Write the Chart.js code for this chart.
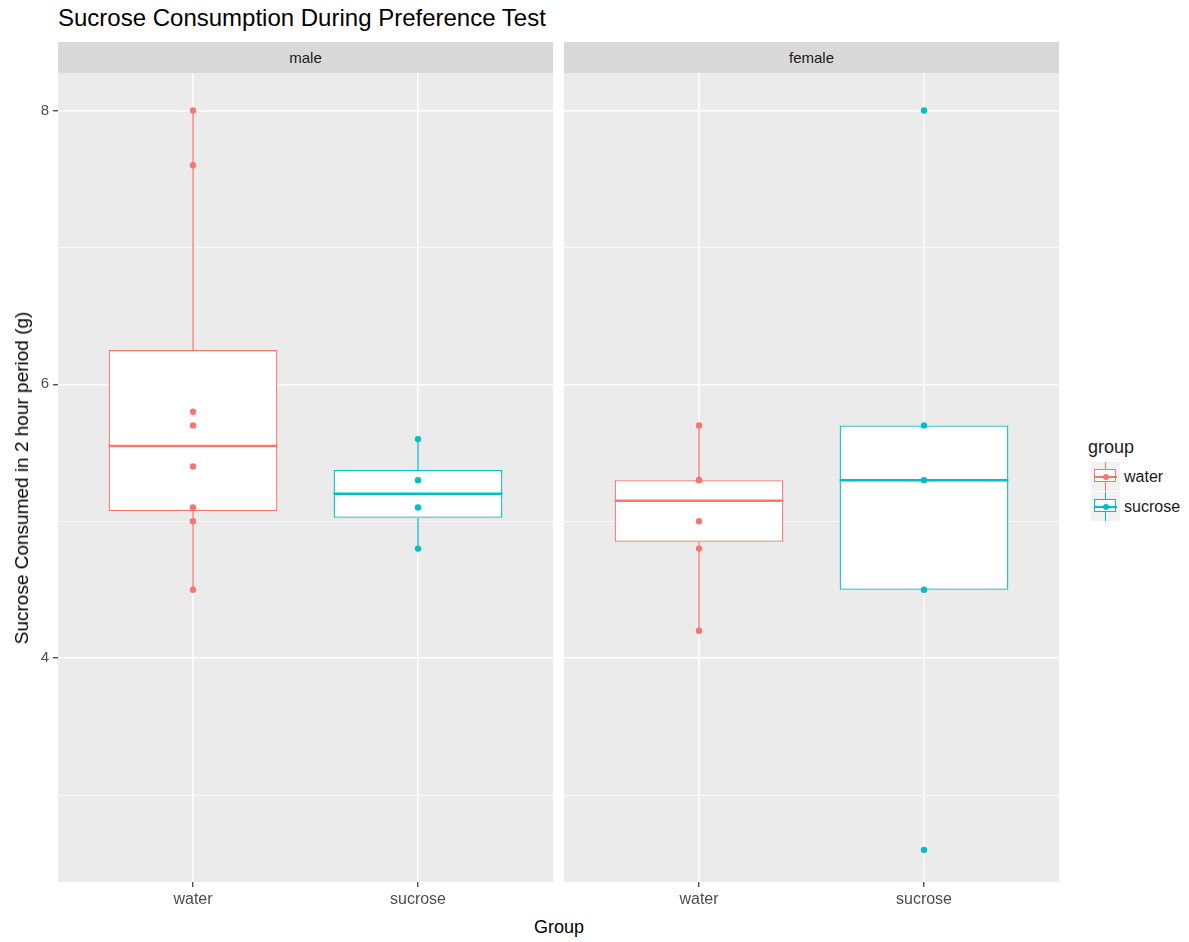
<!DOCTYPE html>
<html>
<head>
<meta charset="utf-8">
<script src="https://cdn.jsdelivr.net/npm/chart.js@4.4.1/dist/chart.umd.min.js"></script>
<style>
body{margin:0;background:#fff;font-family:"Liberation Sans",Arial,sans-serif;}
#page{position:relative;width:1189px;height:942px;overflow:hidden;}
canvas{position:absolute;top:73px;}
.strip{position:absolute;top:42px;height:31px;background:#D9D9D9;color:#1A1A1A;font-size:15px;line-height:31px;text-align:center;}
.txt{position:absolute;color:#000;white-space:nowrap;}
.key{position:absolute;left:1091px;width:29px;height:29px;background:#F2F2F2;}
.key div{position:absolute;}
.klab{position:absolute;left:1124px;font-size:16px;color:#1A1A1A;line-height:29px;}
</style>
</head>
<body>
<div id="page">
<div class="txt" style="left:58px;top:4px;font-size:24px;">Sucrose Consumption During Preference Test</div>

<div class="strip" style="left:58px;width:495px;">male</div>
<div class="strip" style="left:564px;width:495px;">female</div>

<canvas id="maleChart" width="553" height="842" style="left:0px;"></canvas>
<canvas id="femaleChart" width="495" height="842" style="left:564px;"></canvas>

<div class="txt" style="left:559px;top:917px;font-size:18px;transform:translateX(-50%);">Group</div>
<div class="txt" style="left:22px;top:478px;font-size:19px;transform:translate(-50%,-50%) rotate(-90deg);">Sucrose Consumed in 2 hour period (g)</div>

<div class="txt" style="left:1088px;top:437px;font-size:18px;color:#1A1A1A;">group</div>
<div id="legend"></div>
</div>

<script>
/* values */
let sexes = ["male", "female"];
let groups = ["water", "sucrose"];
let colors = ["#F8766D", "#00BFC4"];

/* raw points */
let maleWater = [8.0, 7.6, 5.8, 5.7, 5.4, 5.1, 5.0, 4.5];
let maleSucrose = [5.6, 5.3, 5.1, 4.8];
let femaleWater = [5.7, 5.3, 5.3, 5.0, 4.8, 4.2];
let femaleSucrose = [8.0, 5.7, 5.3, 4.5, 2.6];

/* box stats, [water, sucrose] */
let maleQ1 = [5.075, 5.025];
let maleMed = [5.55, 5.2];
let maleQ3 = [6.25, 5.375];
let maleLo = [4.5, 4.8];
let maleHi = [8.0, 5.6];

let femaleQ1 = [4.85, 4.5];
let femaleMed = [5.15, 5.3];
let femaleQ3 = [5.3, 5.7];
let femaleLo = [4.2, 4.5];
let femaleHi = [5.7, 5.7];

let yTicks = [3, 4, 5, 6, 7, 8];
let yLabels = [4, 6, 8];

let HALF = 0.375; // half box width in x units

/* grey panel behind the grid */
let panelBg = {
  id: "panelBg",
  beforeDraw(chart){
    let a = chart.chartArea;
    let ctx = chart.ctx;
    ctx.save();
    ctx.fillStyle = "#EBEBEB";
    ctx.fillRect(a.left, a.top, a.right - a.left, a.bottom - a.top);
    ctx.restore();
  }
};

function noPad(s){
  s.paddingLeft = 0; s.paddingRight = 0; s.paddingTop = 0; s.paddingBottom = 0;
}

function buildPanel(id, pts, q1, med, q3, lo, hi, showY){

let ds = [];

/* points */
pts.forEach((arr, g) => {
  ds.push({
    type: "scatter",
    data: arr.map(v => ({x: g + 1, y: v})),
    pointRadius: 3.2,
    pointHoverRadius: 3.2,
    backgroundColor: colors[g],
    pointBackgroundColor: colors[g],
    borderWidth: 0,
    order: 0
  });
});

/* medians + whiskers */
groups.forEach((name, g) => {
  let x = g + 1;
  ds.push({
    type: "line",
    data: [{x: x - HALF, y: med[g]}, {x: x + HALF, y: med[g]}],
    borderColor: colors[g], borderWidth: 2.5, pointRadius: 0, fill: false,
    order: 1
  });
  ds.push({
    type: "line",
    data: [{x: x, y: q3[g]}, {x: x, y: hi[g]}],
    borderColor: colors[g], borderWidth: 1.3, pointRadius: 0, fill: false,
    order: 3
  });
  ds.push({
    type: "line",
    data: [{x: x, y: lo[g]}, {x: x, y: q1[g]}],
    borderColor: colors[g], borderWidth: 1.3, pointRadius: 0, fill: false,
    order: 3
  });
});

/* boxes */
ds.push({
  type: "bar",
  data: groups.map((name, g) => ({x: g + 1, y: [q1[g], q3[g]]})),
  backgroundColor: "#FFFFFF",
  borderColor: colors,
  borderWidth: 1.3,
  borderSkipped: false,
  categoryPercentage: 1,
  barPercentage: 0.75,
  grouped: false,
  order: 2
});

new Chart(document.getElementById(id), {
  type: "bar",
  data: { datasets: ds },
  plugins: [panelBg],
  options: {
    responsive: false,
    animation: false,
    events: [],
    layout: { padding: 0, autoPadding: false },
    plugins: { legend: { display: false }, tooltip: { enabled: false } },
    scales: {
      x: {
        type: "linear",
        min: 0.4, max: 2.6,
        offset: false,
        afterBuildTicks: s => { s.ticks = groups.map((n, i) => ({value: i + 1})); },
        afterFit: s => { s.height = 33; noPad(s); },
        ticks: {
          callback: v => groups[v - 1],
          color: "#4D4D4D",
          font: { family: "'Liberation Sans', Arial", size: 16 },
          padding: 3,
          maxRotation: 0
        },
        grid: { offset: false, color: "#FFFFFF", lineWidth: 1.5, tickLength: 5, tickColor: "#333333", tickWidth: 1.2 },
        border: { display: false }
      },
      y: {
        type: "linear",
        min: 2.365, max: 8.274,
        beginAtZero: false,
        afterBuildTicks: s => { s.ticks = yTicks.map(v => ({value: v})); },
        afterFit: s => { s.width = showY ? 58 : 0; noPad(s); },
        ticks: {
          display: showY,
          callback: v => yLabels.includes(v) ? String(v) : "",
          color: "#4D4D4D",
          font: { family: "'Liberation Sans', Arial", size: 15 },
          padding: 4
        },
        grid: {
          color: "#FFFFFF",
          lineWidth: c => (c.tick && yLabels.includes(c.tick.value)) ? 1.5 : 0.75,
          drawTicks: showY,
          tickLength: 5,
          tickColor: c => (c.tick && yLabels.includes(c.tick.value)) ? "#333333" : "rgba(0,0,0,0)",
          tickWidth: 1.2
        },
        border: { display: false }
      }
    }
  }
});

}

buildPanel("maleChart", [maleWater, maleSucrose], maleQ1, maleMed, maleQ3, maleLo, maleHi, true);
buildPanel("femaleChart", [femaleWater, femaleSucrose], femaleQ1, femaleMed, femaleQ3, femaleLo, femaleHi, false);

/* legend keys */
let lg = document.getElementById("legend");
groups.forEach((name, g) => {
  let top = 462 + g * 30;
  let c = colors[g];
  lg.innerHTML += `
<div class="key" style="top:${top}px">
<div style="left:14px;top:0;width:1.3px;height:29px;background:${c}"></div>
<div style="left:3px;top:7px;width:20.4px;height:11.4px;background:#fff;border:1.3px solid ${c}"></div>
<div style="left:3px;top:13.5px;width:23px;height:2px;background:${c}"></div>
<div style="left:11.5px;top:11.5px;width:6px;height:6px;border-radius:50%;background:${c}"></div>
</div>
<div class="klab" style="top:${top}px">${name}</div>`;
});
</script>
</body>
</html>
